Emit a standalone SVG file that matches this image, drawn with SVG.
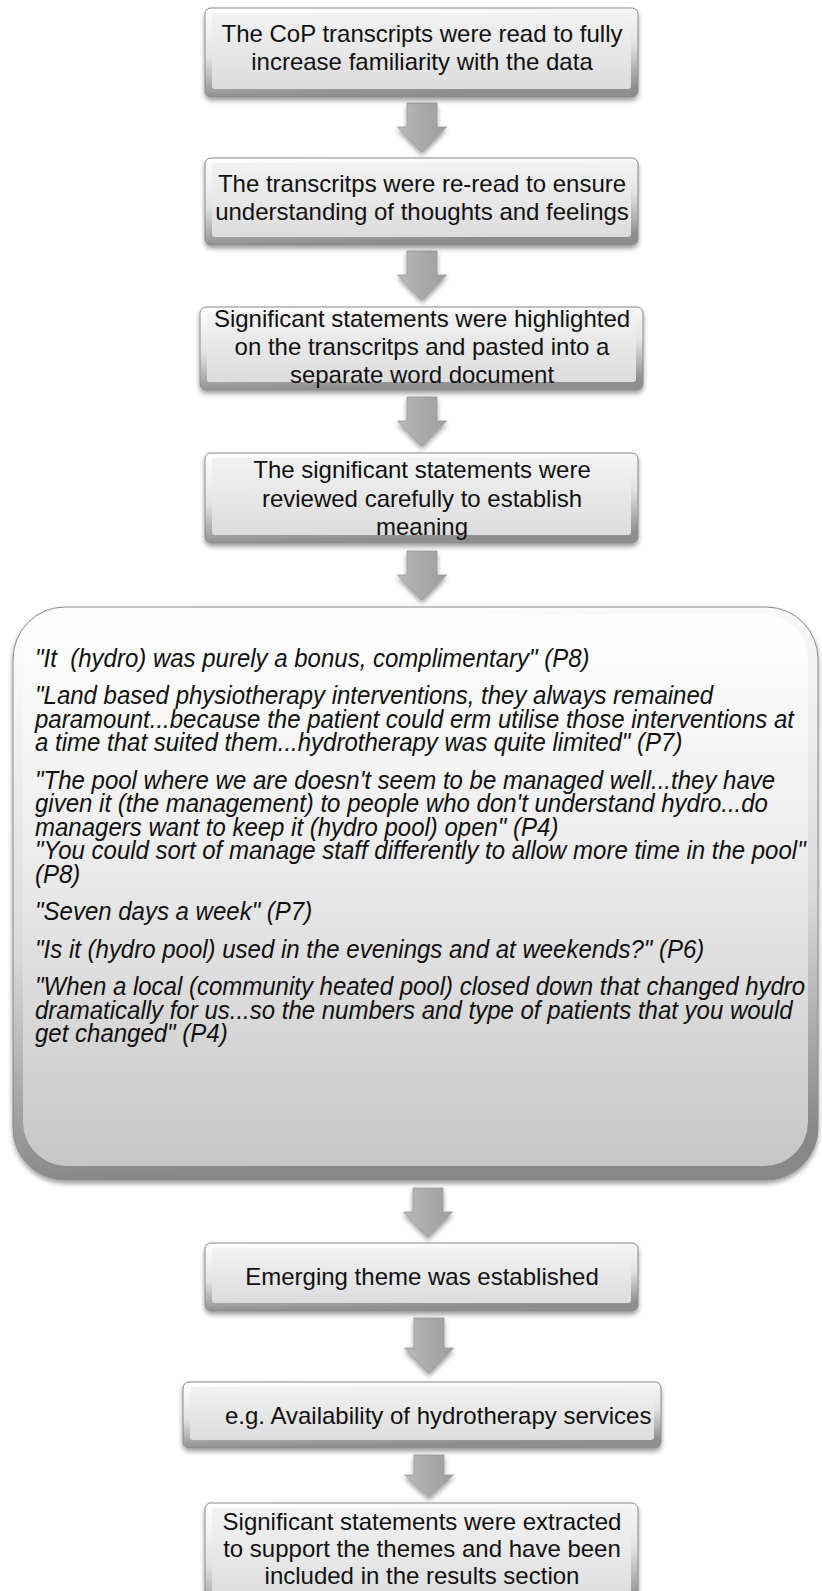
<svg xmlns="http://www.w3.org/2000/svg" width="822" height="1591" viewBox="0 0 822 1591">
<style>
.t{font-family:"Liberation Sans",Arial,sans-serif;font-size:24px;fill:#111;text-anchor:middle}
.q{font-family:"Liberation Sans",Arial,sans-serif;font-size:25px;font-style:italic;fill:#111}
.outer{fill:url(#bevel);stroke:#8a8a8a;stroke-width:1}
.inner{fill:url(#face)}
.bigOuter{fill:url(#bigBevel);stroke:#8a8a8a;stroke-width:1}
.bigInner{fill:url(#bigFace)}
.arrow{fill:url(#arrowGrad);stroke:#999;stroke-width:0.8}
</style>
<defs>
<linearGradient id="bevel" x1="0" y1="0" x2="0.15" y2="1">
<stop offset="0" stop-color="#ffffff"/>
<stop offset="0.55" stop-color="#e2e2e2"/>
<stop offset="1" stop-color="#8e8e8e"/>
</linearGradient>
<linearGradient id="face" x1="0" y1="0" x2="0" y2="1">
<stop offset="0" stop-color="#f2f2f2"/>
<stop offset="1" stop-color="#dcdcdc"/>
</linearGradient>
<linearGradient id="bigBevel" x1="0" y1="0" x2="0.1" y2="1">
<stop offset="0" stop-color="#ffffff"/>
<stop offset="0.6" stop-color="#dadada"/>
<stop offset="1" stop-color="#888888"/>
</linearGradient>
<linearGradient id="bigFace" x1="0" y1="0" x2="0" y2="1">
<stop offset="0" stop-color="#ffffff"/>
<stop offset="0.4" stop-color="#eeeeee"/>
<stop offset="1" stop-color="#c6c6c6"/>
</linearGradient>
<linearGradient id="arrowGrad" x1="0" y1="0" x2="1" y2="0">
<stop offset="0" stop-color="#b9b9b9"/>
<stop offset="1" stop-color="#9d9d9d"/>
</linearGradient>
<filter id="shadow" x="-10%" y="-10%" width="120%" height="130%">
<feGaussianBlur in="SourceAlpha" stdDeviation="2.5"/>
<feOffset dy="3" result="b"/>
<feComponentTransfer><feFuncA type="linear" slope="0.4"/></feComponentTransfer>
<feMerge><feMergeNode/><feMergeNode in="SourceGraphic"/></feMerge>
</filter>
</defs>
<rect x="0" y="0" width="822" height="1591" fill="#ffffff"/>

<g id="connectors" filter="url(#shadow)">
<path class="arrow" d="M407,103 H437 V127 H446.5 L422,152 L397.5,127 H407 Z"/>
<path class="arrow" d="M407,251 H437 V275 H446.5 L422,300 L397.5,275 H407 Z"/>
<path class="arrow" d="M407,397 H437 V421 H446.5 L422,446 L397.5,421 H407 Z"/>
<path class="arrow" d="M407,551 H437 V575 H446.5 L422,600 L397.5,575 H407 Z"/>
<path class="arrow" d="M413,1188 H443 V1212 H452.5 L428,1237 L403.5,1212 H413 Z"/>
<path class="arrow" d="M414,1318 H444 V1348 H453.5 L429,1373 L404.5,1348 H414 Z"/>
<path class="arrow" d="M414,1455 H444 V1475 H453.5 L429,1497 L404.5,1475 H414 Z"/>
</g>

<g id="n1">
<rect class="outer" x="205" y="8" width="433" height="89" rx="6" filter="url(#shadow)"/>
<rect class="inner" x="212" y="13" width="419" height="76" rx="3"/>
<text class="t" x="422" y="42">The CoP transcripts were read to fully</text>
<text class="t" x="422" y="70">increase familiarity with the data</text>
</g>

<g id="n2">
<rect class="outer" x="205" y="158" width="433" height="87" rx="6" filter="url(#shadow)"/>
<rect class="inner" x="212" y="163" width="419" height="74" rx="3"/>
<text class="t" x="422" y="192">The transcritps were re-read to ensure</text>
<text class="t" x="422" y="220">understanding of thoughts and feelings</text>
</g>

<g id="n3">
<rect class="outer" x="200" y="307" width="443" height="83" rx="6" filter="url(#shadow)"/>
<rect class="inner" x="207" y="312" width="429" height="70" rx="3"/>
<text class="t" x="422" y="327">Significant statements were highlighted</text>
<text class="t" x="422" y="355">on the transcritps and pasted into a</text>
<text class="t" x="422" y="383">separate word document</text>
</g>

<g id="n4">
<rect class="outer" x="205" y="453" width="433" height="90" rx="6" filter="url(#shadow)"/>
<rect class="inner" x="212" y="458" width="419" height="77" rx="3"/>
<text class="t" x="422" y="478">The significant statements were</text>
<text class="t" x="422" y="507">reviewed carefully to establish</text>
<text class="t" x="422" y="535">meaning</text>
</g>

<g id="n5">
<rect class="bigOuter" x="13" y="607" width="805" height="573" rx="52" filter="url(#shadow)"/>
<rect class="bigInner" x="23" y="615" width="785" height="551" rx="44"/>
<g transform="scale(0.96,1)">
<text class="q" x="36.5" y="667" xml:space="preserve">"It  (hydro) was purely a bonus, complimentary" (P8)</text>
<text class="q" x="36.5" y="704.5">"Land based physiotherapy interventions, they always remained</text>
<text class="q" x="36.5" y="728">paramount...because the patient could erm utilise those interventions at</text>
<text class="q" x="36.5" y="751.5">a time that suited them...hydrotherapy was quite limited" (P7)</text>
<text class="q" x="36.5" y="789">"The pool where we are doesn't seem to be managed well...they have</text>
<text class="q" x="36.5" y="812.5">given it (the management) to people who don't understand hydro...do</text>
<text class="q" x="36.5" y="836">managers want to keep it (hydro pool) open" (P4)</text>
<text class="q" x="36.5" y="859.5">"You could sort of manage staff differently to allow more time in the pool"</text>
<text class="q" x="36.5" y="883">(P8)</text>
<text class="q" x="36.5" y="920.5">"Seven days a week" (P7)</text>
<text class="q" x="36.5" y="958">"Is it (hydro pool) used in the evenings and at weekends?" (P6)</text>
<text class="q" x="36.5" y="995.5">"When a local (community heated pool) closed down that changed hydro</text>
<text class="q" x="36.5" y="1019">dramatically for us...so the numbers and type of patients that you would</text>
<text class="q" x="36.5" y="1042.5">get changed" (P4)</text>
</g>
</g>

<g id="n6">
<rect class="outer" x="205" y="1243" width="433" height="68" rx="6" filter="url(#shadow)"/>
<rect class="inner" x="212" y="1248" width="419" height="55" rx="3"/>
<text class="t" x="422" y="1285">Emerging theme was established</text>
</g>

<g id="n7">
<rect class="outer" x="183" y="1382" width="478" height="66" rx="6" filter="url(#shadow)"/>
<rect class="inner" x="190" y="1387" width="464" height="53" rx="3"/>
<text class="t" x="225" y="1424" style="text-anchor:start">e.g. Availability of hydrotherapy services</text>
</g>

<g id="n8">
<rect class="outer" x="205" y="1503" width="433" height="110" rx="6" filter="url(#shadow)"/>
<rect class="inner" x="212" y="1508" width="419" height="97" rx="3"/>
<text class="t" x="422" y="1530">Significant statements were extracted</text>
<text class="t" x="422" y="1557">to support the themes and have been</text>
<text class="t" x="422" y="1584">included in the results section</text>
</g>
</svg>
